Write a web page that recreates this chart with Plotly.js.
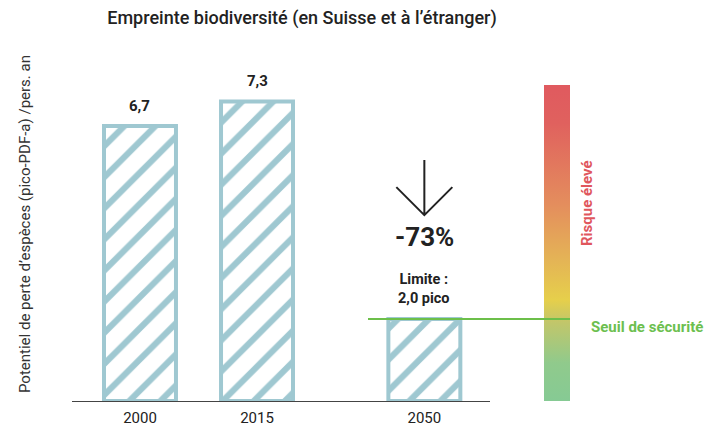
<!DOCTYPE html>
<html>
<head>
<meta charset="utf-8">
<script src="https://cdn.plot.ly/plotly-3.0.1.min.js"></script>
<style>
  html, body { margin: 0; padding: 0; background: #fff; }
  #chart { width: 707px; height: 428px; }
</style>
</head>
<body>
<div id="chart"></div>
<script>
// data
var years = ['2000', '2015', '2050'];
var footprint = [6.7, 7.3, 2.0];      // pico-PDF-a per person and year
var safeLimit = 2.0;                  // Seuil de sécurité
var riskTop = 7.7;                    // top of the risk scale

// layout helpers (not data): slot of each bar on the x axis
var slots = [0, 1, 2.43];
var L = 72, R = 137, T = 85, B = 27, W = 707, H = 428;
function px(x) { return (x - L) / (W - L - R); }
function py(y) { return (H - B - y) / (H - T - B); }

var hatch = '#9fc8d1';
var ink = '#222';
var font = 'Roboto, "Liberation Sans", Arial, sans-serif';

var bars = {
  type: 'bar',
  x: slots,
  y: footprint,
  width: 0.615,
  hoverinfo: 'skip',
  marker: {
    color: '#fff',
    line: { color: hatch, width: 4 },
    pattern: { shape: '/', fgcolor: hatch, bgcolor: '#fff', size: 22, solidity: 0.28 }
  }
};

var riskBar = {
  type: 'scatter',
  mode: 'lines',
  xaxis: 'x2',
  x: [0, 1, 1, 0, 0],
  y: [0, 0, riskTop, riskTop, 0],
  fill: 'toself',
  line: { width: 0 },
  hoverinfo: 'skip',
  fillgradient: {
    type: 'vertical',
    start: 0,
    stop: riskTop,
    colorscale: [
      [0, '#86ca94'],
      [0.12, '#90ca8c'],
      [0.25, '#c2c66a'],
      [0.32, '#e6cf4b'],
      [0.45, '#e4b356'],
      [0.62, '#e48e5d'],
      [0.88, '#e0615e'],
      [1, '#e05a5f']
    ]
  }
};

var change = Math.round((footprint[2] - footprint[1]) / footprint[1] * 100);
var fmt = function (v) { return v.toFixed(1).replace('.', ','); };

var annotations = [
  {
    xref: 'paper', yref: 'paper', x: px(25), y: py(224),
    text: 'Potentiel de perte d’espèces (pico-PDF-a) /pers. an',
    textangle: -90, showarrow: false, xanchor: 'center', yanchor: 'middle',
    font: { family: font, size: 15, color: '#333' }
  },
  {
    xref: 'x', yref: 'y', x: slots[2], y: 3.99,
    text: change + '%', showarrow: false,
    font: { family: font, size: 26, color: ink, weight: 700 }
  },
  {
    xref: 'x', yref: 'y', x: slots[2], y: safeLimit, yshift: 30,
    text: 'Limite :<br>' + fmt(safeLimit) + ' pico', showarrow: false,
    font: { family: font, size: 14.5, color: ink, weight: 700 }
  },
  {
    xref: 'paper', yref: 'paper', x: px(598), y: py(203),
    text: 'Risque élevé', textangle: -90, showarrow: false,
    font: { family: font, size: 15, color: '#e0575d', weight: 700 }
  },
  {
    xref: 'paper', yref: 'y', x: px(589), y: safeLimit, yshift: -8,
    xanchor: 'left', text: 'Seuil de sécurité', showarrow: false,
    font: { family: font, size: 15, color: '#6cbf4f', weight: 700 }
  }
];
for (var i = 0; i < 2; i++) {
  annotations.push({
    xref: 'x', yref: 'y', x: slots[i], y: footprint[i], yshift: 20,
    text: fmt(footprint[i]), showarrow: false,
    font: { family: font, size: 15, color: ink, weight: 700 }
  });
}

var shapes = [
  {
    type: 'line', xref: 'paper', yref: 'y', x0: px(368), x1: 1,
    y0: safeLimit, y1: safeLimit, layer: 'above',
    line: { color: '#6cbf4a', width: 2 }
  },
  {
    type: 'path', xref: 'x', yref: 'y', xsizemode: 'pixel', ysizemode: 'pixel',
    xanchor: slots[2], yanchor: 4.53,
    path: 'M0,0 L0,55 M-28,28 L0,0 L28,28',
    line: { color: ink, width: 2 }
  }
];

var layout = {
  width: W, height: H,
  margin: { l: L, r: R, t: T, b: B, pad: 0 },
  paper_bgcolor: '#fff', plot_bgcolor: '#fff',
  showlegend: false,
  separators: ', ',
  font: { family: font, color: ink },
  title: {
    text: 'Empreinte biodiversité (en Suisse et à l’étranger)',
    xref: 'container', yref: 'container', x: 302 / W, y: 1 - 18 / H,
    xanchor: 'center', yanchor: 'middle',
    font: { family: font, size: 18, color: ink, weight: 500 }
  },
  xaxis: {
    domain: [0, px(490)],
    range: [-0.581, 2.991],
    tickvals: slots, ticktext: years,
    ticks: '', ticklabelstandoff: 3,
    tickfont: { family: font, size: 15, color: ink },
    showline: true, linecolor: '#444', linewidth: 1,
    showgrid: false, zeroline: false, fixedrange: true
  },
  xaxis2: {
    domain: [px(544), 1], range: [0, 1], anchor: 'y',
    visible: false, fixedrange: true
  },
  yaxis: {
    range: [0, riskTop],
    showticklabels: false, ticks: '', showgrid: false,
    zeroline: false, showline: false, fixedrange: true
  },
  annotations: annotations,
  shapes: shapes
};

Plotly.newPlot('chart', [riskBar, bars], layout, { displayModeBar: false, staticPlot: true });
</script>
</body>
</html>
